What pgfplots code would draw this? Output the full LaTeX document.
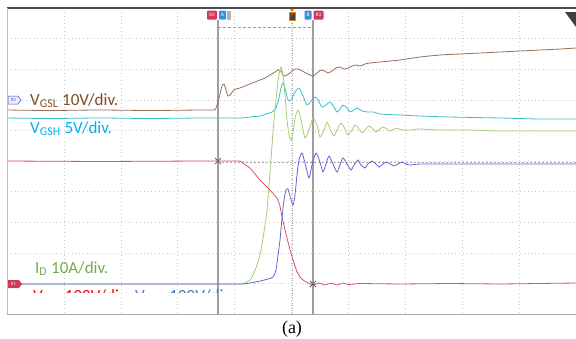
\documentclass[border=0pt]{standalone}
\usepackage{pgfplots}
\pgfplotsset{compat=1.18}
\usepackage{fontspec}
\setmainfont{Carlito}
\newfontfamily\seriffont{Liberation Serif}
\definecolor{brtr}{RGB}{150,110,90}
\definecolor{cytr}{RGB}{60,190,200}
\definecolor{grtr}{RGB}{165,205,115}
\definecolor{bltr}{RGB}{100,100,215}
\definecolor{rdtr}{RGB}{220,80,110}
\definecolor{brtx}{RGB}{130,75,35}
\definecolor{cytx}{RGB}{0,176,240}
\definecolor{grtx}{RGB}{112,173,71}
\definecolor{rdtx}{RGB}{255,0,0}
\definecolor{bltx}{RGB}{68,114,196}
\definecolor{mkred}{RGB}{205,60,90}
\definecolor{mkblue}{RGB}{60,140,220}
\definecolor{gridc}{RGB}{200,200,200}
\definecolor{pinkd}{RGB}{240,120,120}
\begin{document}
\begin{tikzpicture}
\path[use as bounding box] (0,0) rectangle (576pt,-338pt);
\begin{axis}[
  at={(7pt,-8pt)}, anchor=north west,
  scale only axis, width=569pt, height=306pt,
  xmin=7, xmax=576, ymin=8, ymax=314, y dir=reverse,
  axis line style={draw=none},
  xtick={63.9,120.8,177.7,234.6,291.5,348.4,405.3,462.2,519.1},
  ytick={38.6,69.2,99.8,130.4,161,191.6,222.2,252.8,283.4},
  xticklabels={}, yticklabels={},
  major tick length=0pt,
  grid=major,
  grid style={gridc, line width=0.6pt, dash pattern=on 0.8pt off 3pt},
  clip=true,
]
% reference lines
\draw[gray!70, line width=0.6pt, dash pattern=on 2pt off 2pt] (axis cs:218,162) -- (axis cs:576,162);
\draw[pinkd, line width=0.6pt, dash pattern=on 3pt off 2pt] (axis cs:218,27) -- (axis cs:313,27);
\draw[gray!70, line width=0.6pt, dash pattern=on 1pt off 1.5pt] (axis cs:292,20) -- (axis cs:292,314);
\draw[gray!75, line width=1.1pt] (axis cs:218,20) -- (axis cs:218,314);
\draw[gray!75, line width=1.1pt] (axis cs:313,20) -- (axis cs:313,314);
% V_GSL (brown)
\addplot[brtr, line width=0.8pt, smooth, tension=0.4] coordinates {
(7,110)(50,110.5)(100,110)(150,110.5)(200,110)(214,110)(216,108)(218,102)(220,94)(222,86)(224,84)(226,90)(228,96)(230,95)(233,91)(236,89)(240,88)(245,86)(250,84)(255,82)(260,80)(265,78)(270,75)(275,72)(278,70)(281,71)(284,76)(287,75)(291,72)(295,69)(298,69)(302,71)(306,73)(310,75)(313,76)(317,73)(321,70)(325,71)(328,73)(332,71)(336,68)(340,67)(344,69)(348,68)(352,66)(356,65)(360,66)(365,64)(370,63)(380,62)(390,61)(400,60)(420,57)(440,55)(460,54)(480,53)(500,52)(520,51)(540,50)(560,49)(576,48)};
% V_GSH (cyan)
\addplot[cytr, line width=0.8pt, smooth, tension=0.4] coordinates {
(7,118)(50,118.5)(100,118)(150,118.5)(200,118)(240,118)(250,117)(260,116)(266,114)(272,112)(276,108)(279,98)(281,88)(283,83)(285,88)(288,100)(291,100)(295,92)(299,88)(303,96)(307,105)(311,101)(315,97)(318,100)(322,107)(326,105)(330,102)(334,107)(337,112)(340,109)(343,105)(347,108)(350,112)(354,110)(357,108)(362,111)(368,112)(374,112)(380,114)(400,115)(420,116)(450,117)(500,118)(540,119)(576,119)};
% I_D (green)
\addplot[grtr, line width=0.8pt, smooth, tension=0.4] coordinates {
(7,284)(100,284)(200,284)(240,284)(245,283)(250,280)(254,273)(258,262)(261,250)(264,232)(267,210)(269,185)(271,160)(273,132)(275,110)(277,90)(279,74)(281,67)(283,75)(285,95)(287,120)(289,135)(291,140)(293,133)(295,118)(298,110)(301,120)(305,138)(309,130)(313,118)(317,125)(320,137)(324,130)(327,122)(330,129)(334,136)(337,130)(341,123)(345,129)(348,135)(352,130)(355,125)(359,129)(362,133)(366,129)(369,126)(373,129)(376,132)(380,129)(383,127)(387,129)(390,131)(394,129)(397,128)(402,130)(410,130)(420,129)(440,130)(470,130)(500,131)(540,131)(576,131)};
% V_DSL (red)
\addplot[rdtr, line width=0.8pt] coordinates {
(7,161)(100,161.5)(200,161)(218,161)(240,161)(250,168)(260,180)(270,190)(277,198)(280,206)(282,217)(286,234)(290,250)(294,263)(297,272)(300,277)(303,280)(308,283)(313,285)(316,284)(319,283)(322,284)(325,285)(328,284)(331,283)(334,284)(337,285)(340,284)(343,283)(346,284)(349,284.5)(360,283.5)(400,284)(450,283.5)(500,284)(576,283)};
% V_DSH (blue)
\addplot[bltr, line width=0.8pt, smooth, tension=0.4] coordinates {
(7,284)(100,284)(200,284)(240,284)(250,283)(260,281)(268,279)(273,277)(276,270)(278,255)(280,240)(282,218)(284,200)(286,190)(288,189)(290,196)(293,205)(295,195)(297,175)(299,160)(302,153)(305,163)(309,178)(312,165)(316,153)(320,162)(323,172)(326,164)(329,156)(333,164)(337,172)(340,165)(343,158)(347,164)(351,170)(354,165)(358,160)(361,165)(365,168)(368,164)(372,161)(376,164)(379,167)(383,164)(386,162)(390,164)(394,166)(398,164)(402,162)(406,164)(410,165)(420,164)(440,164)(470,164)(500,164)(540,164)(576,164)};
% cursor cross marks
\draw[gray!80!black, line width=0.8pt] (axis cs:215,158) -- (axis cs:221,164) (axis cs:215,164) -- (axis cs:221,158);
\draw[gray!80!black, line width=0.8pt] (axis cs:310,281) -- (axis cs:316,287) (axis cs:310,287) -- (axis cs:316,281);
% top markers
\node[fill=mkred, rounded corners=1pt, minimum width=10pt, minimum height=9pt, inner sep=0pt, text=white, font=\fontsize{5}{5}\selectfont] at (axis cs:212,15) {R3};
\node[fill=mkblue, rounded corners=1pt, minimum width=7pt, minimum height=9pt, inner sep=0pt, text=white, font=\fontsize{5.5}{5}\selectfont] at (axis cs:222.5,15) {A};
\node[fill=gray!60, minimum width=4pt, minimum height=9pt, inner sep=0pt] at (axis cs:229,15) {};
\node[fill=mkblue, rounded corners=1pt, minimum width=7pt, minimum height=9pt, inner sep=0pt, text=white, font=\fontsize{5.5}{5}\selectfont] at (axis cs:308,15) {B};
\node[fill=mkred, rounded corners=1pt, minimum width=10pt, minimum height=9pt, inner sep=0pt, text=white, font=\fontsize{5}{5}\selectfont] at (axis cs:318.5,15) {R3};
\node[fill=black!75, draw=orange, line width=0.6pt, minimum width=6pt, minimum height=8pt, inner sep=0pt, text=orange!80!white, font=\fontsize{5}{5}\selectfont] at (axis cs:292,16) {T};
\fill[orange] (axis cs:289,8) -- (axis cs:295,8) -- (axis cs:292,12) -- cycle;
\fill[black!75] (axis cs:565,12) -- (axis cs:576,12) -- (axis cs:576,27) -- cycle;
% left markers
\draw[fill=blue!8, draw=blue!40!gray, line width=0.5pt] (axis cs:8,96) -- (axis cs:18,96) -- (axis cs:21,100) -- (axis cs:18,104) -- (axis cs:8,104) -- cycle;
\node[text=blue!40!gray, font=\fontsize{4.5}{5}\selectfont, inner sep=0pt] at (axis cs:13.5,100) {R2};
\fill[mkred] (axis cs:8,280) -- (axis cs:19,280) -- (axis cs:22,284) -- (axis cs:19,288) -- (axis cs:8,288) -- cycle;
\node[text=white, font=\fontsize{4.5}{5}\selectfont, inner sep=0pt] at (axis cs:13.5,284) {R1};
% labels
\node[anchor=base west, inner sep=0pt, text=brtx, font=\fontsize{17}{17}\selectfont] at (axis cs:30,105) {V\textsubscript{GSL} 10V/div.};
\node[anchor=base west, inner sep=0pt, text=cytx, font=\fontsize{17}{17}\selectfont] at (axis cs:30,133) {V\textsubscript{GSH} 5V/div.};
\node[anchor=base west, inner sep=0pt, text=grtx, font=\fontsize{17}{17}\selectfont] at (axis cs:35,273) {I\textsubscript{D} 10A/div.};
\begin{scope}
\clip (axis cs:7,280) rectangle (axis cs:300,292.5);
\node[anchor=base west, inner sep=0pt, text=rdtx, font=\fontsize{17}{17}\selectfont] at (axis cs:33,301.5) {V\textsubscript{DSL} 100V/div.};
\node[anchor=base west, inner sep=0pt, text=bltx, font=\fontsize{17}{17}\selectfont] at (axis cs:135,301.5) {V\textsubscript{DSH} 100V/div.};
\end{scope}
\end{axis}
% frame
\draw[black!70, line width=1.6pt] (7pt,-8pt) -- (576pt,-8pt);
\draw[gray!50, line width=0.8pt] (7pt,-8pt) -- (7pt,-314.5pt);
\draw[gray!70, line width=1pt] (7pt,-314.5pt) -- (576pt,-314.5pt);
\node[font=\seriffont\fontsize{18}{18}\selectfont, anchor=base, inner sep=0pt] at (292pt,-333pt) {(a)};
\end{tikzpicture}
\end{document}
